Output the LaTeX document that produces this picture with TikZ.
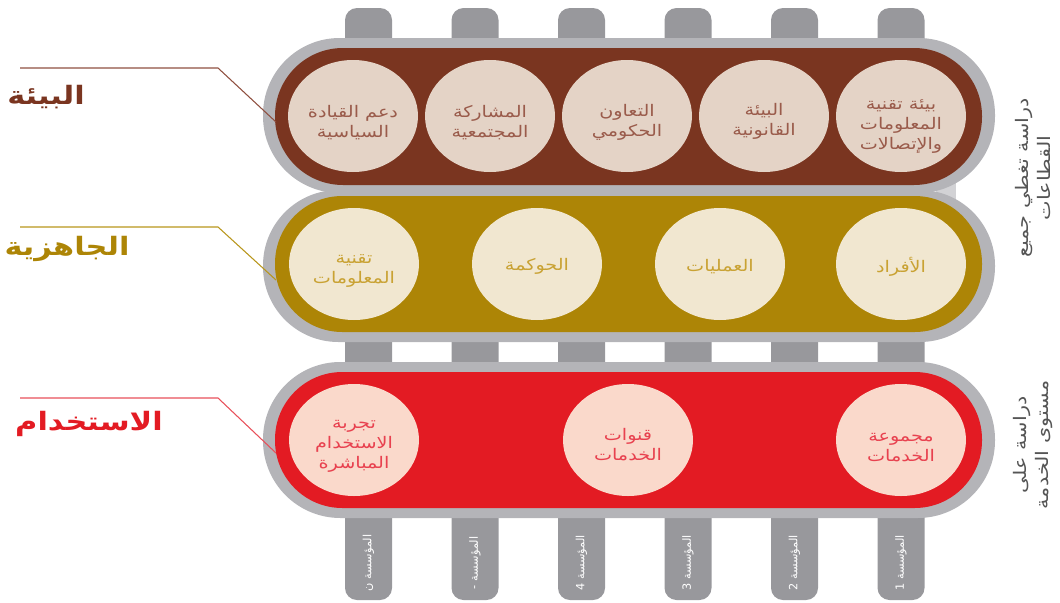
\documentclass[tikz,border=0pt]{standalone}
\usepackage{fontspec}
\usetikzlibrary{shapes.geometric}
\TeXXeTstate=1
\newfontfamily\arabicfont[Script=Arabic]{DejaVu Sans}
\newfontfamily\arabicwide[Script=Arabic,FakeStretch=1.2]{DejaVu Sans}
\newcommand\AR[1]{{\arabicfont\beginR #1\endR}}
\newcommand\ARW[1]{{\arabicwide\beginR #1\endR}}
\definecolor{bandgray}{HTML}{B4B4B8}
\definecolor{pillargray}{HTML}{98989C}
\definecolor{notchgray}{HTML}{D2D2D5}
\definecolor{brownband}{HTML}{7A3520}
\definecolor{goldband}{HTML}{AD8506}
\definecolor{redband}{HTML}{E31B23}
\definecolor{browncirc}{HTML}{E4D3C6}
\definecolor{goldcirc}{HTML}{F1E7D0}
\definecolor{redcirc}{HTML}{FAD9CB}
\definecolor{browntext}{HTML}{9A5B4B}
\definecolor{goldtext}{HTML}{C9A233}
\definecolor{redtext}{HTML}{E8414F}
\definecolor{brownline}{HTML}{8F5040}
\definecolor{goldline}{HTML}{B8961C}
\definecolor{redline}{HTML}{E8505A}
\definecolor{sidetext}{HTML}{555555}
\begin{document}
\begin{tikzpicture}[x=0.75pt,y=-0.75pt,
  circ/.style={ellipse, minimum width=97.5pt, minimum height=84pt, inner sep=0pt},
  bcirc/.style={circ, fill=browncirc},
  gcirc/.style={circ, fill=goldcirc},
  rcirc/.style={circ, fill=redcirc},
  ctext/.style={inner sep=0pt, align=center, font=\fontsize{12}{15}\selectfont},
  btext/.style={ctext, text=browntext},
  gtext/.style={ctext, text=goldtext},
  rtext/.style={ctext, text=redtext},
  pillar/.style={fill=pillargray, rounded corners=9pt},
  plabel/.style={rotate=90, text=white, font=\fontsize{8.5}{10}\selectfont, inner sep=0pt},
  sidelabel/.style={rotate=90, text=sidetext, align=center, font=\fontsize{13}{17}\selectfont},
  biglabel/.style={font=\fontsize{19}{21}\selectfont\bfseries, inner sep=0pt},
  leader/.style={line width=0.8pt}
]
\useasboundingbox (0,0) rectangle (1060,603);

% pillars
\foreach \i in {0,...,5}
  \fill[pillar] ({345+106.5*\i},8) rectangle ({392+106.5*\i},600);

% notch between top bands
\fill[notchgray] (936,176) rectangle (956,206);

% band 1
\fill[bandgray, rounded corners=57.5pt] (263,38) rectangle (995,193);
\fill[brownband, rounded corners=51pt] (275,48) rectangle (982,185);
% band 2
\fill[bandgray, rounded corners=56.5pt] (263,190) rectangle (995,342);
\fill[goldband, rounded corners=50.5pt] (275,196) rectangle (982,332);
% band 3
\fill[bandgray, rounded corners=58pt] (263,362) rectangle (995,518);
\fill[redband, rounded corners=50.5pt] (275,372) rectangle (982,508);

% band 1 circles
\node[bcirc] (e1) at (353,116) {};
\node[bcirc] (e2) at (490,116) {};
\node[bcirc] (e3) at (627,116) {};
\node[bcirc] (e4) at (764,116) {};
\node[bcirc] (e5) at (901,116) {};
\node[btext, yshift=-5pt] (e1t) at (e1) {\ARW{دعم القيادة}\\\ARW{السياسية}};
\node[btext, yshift=-5pt] (e2t) at (e2) {\ARW{المشاركة}\\\ARW{المجتمعية}};
\node[btext, yshift=-5pt] (e3t) at (e3) {\ARW{التعاون}\\\ARW{الحكومي}};
\node[btext, yshift=-4pt] (e4t) at (e4) {\ARW{البيئة}\\\ARW{القانونية}};
\node[btext, yshift=-8pt] (e5t) at (e5) {\ARW{بيئة تقنية}\\\ARW{المعلومات}\\\ARW{والإتصالات}};

% band 2 circles
\node[gcirc] (g1) at (354,264) {};
\node[gcirc] (g2) at (537,264) {};
\node[gcirc] (g3) at (720,264) {};
\node[gcirc] (g4) at (901,264) {};
\node[gtext, yshift=-5pt] (g1t) at (g1) {\ARW{تقنية}\\\ARW{المعلومات}};
\node[gtext, yshift=-2pt] (g2t) at (g2) {\ARW{الحوكمة}};
\node[gtext, yshift=-2pt] (g3t) at (g3) {\ARW{العمليات}};
\node[gtext, yshift=-2pt] (g4t) at (g4) {\ARW{الأفراد}};

% band 3 circles
\node[rcirc] (r1) at (354,440) {};
\node[rcirc] (r2) at (628,440) {};
\node[rcirc] (r3) at (901,440) {};
\node[rtext, yshift=-5pt] (r1t) at (r1) {\ARW{تجربة}\\\ARW{الاستخدام}\\\ARW{المباشرة}};
\node[rtext, yshift=-3.5pt] (r2t) at (r2) {\ARW{قنوات}\\\ARW{الخدمات}};
\node[rtext, yshift=-5.5pt] (r3t) at (r3) {\ARW{مجموعة}\\\ARW{الخدمات}};

% pillar labels
\node[plabel] (p1) at (368.5,563) {\AR{المؤسسة ن}};
\node[plabel] (p2) at (475,563) {\AR{المؤسسة -}};
\node[plabel] (p3) at (581.5,563) {\AR{المؤسسة 4}};
\node[plabel] (p4) at (688,563) {\AR{المؤسسة 3}};
\node[plabel] (p5) at (794.5,563) {\AR{المؤسسة 2}};
\node[plabel] (p6) at (901,563) {\AR{المؤسسة 1}};

% side labels
\node[sidelabel] (s1) at (1033,178) {\ARW{دراسة تغطي جميع}\\\ARW{القطاعات}};
\node[sidelabel] (s2) at (1033,445) {\ARW{دراسة على}\\\ARW{مستوى الخدمة}};

% left labels
\node[biglabel, text=brownband] (L1) at (46,97) {\ARW{البيئة}};
\node[biglabel, text=goldband] (L2) at (67,249) {\ARW{الجاهزية}};
\node[biglabel, text=redband] (L3) at (89,424) {\ARW{الاستخدام}};

\coordinate (a1) at (20,68); \coordinate (k1) at (218,68); \coordinate (b1) at (276,122);
\coordinate (a2) at (20,227); \coordinate (k2) at (218,227); \coordinate (b2) at (276,280);
\coordinate (a3) at (20,398); \coordinate (k3) at (218,398); \coordinate (b3) at (276,453);
\draw[leader, brownline] (a1) -- (k1) -- (b1);
\draw[leader, goldline] (a2) -- (k2) -- (b2);
\draw[leader, redline] (a3) -- (k3) -- (b3);
\end{tikzpicture}
\end{document}
